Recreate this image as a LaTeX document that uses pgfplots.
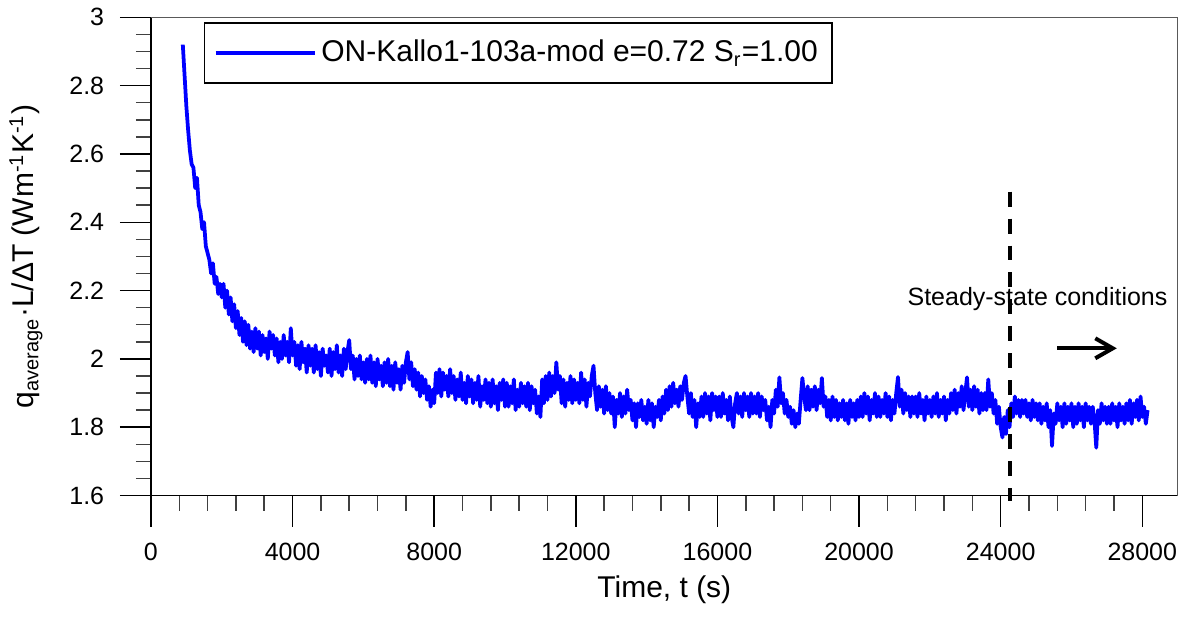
\documentclass[border=0pt]{standalone}
\usepackage{pgfplots}
\pgfplotsset{compat=1.18}
\usepackage{pgfplotstable}
\usepackage{fontspec}
\setmainfont{Liberation Sans}
\usetikzlibrary{arrows.meta}
\definecolor{curveblue}{RGB}{0,0,255}

\pgfplotstableread{
t q
900 2.92
950 2.83
1000 2.74
1050 2.67
1100 2.61
1150 2.57
1200 2.56
1250 2.50
1300 2.53
1350 2.45
1400 2.43
1450 2.38
1500 2.40
1550 2.33
1600 2.31
1650 2.29
1700 2.25
1750 2.28
1800 2.22
1850 2.24
1900 2.19
1950 2.22
2000 2.18
2050 2.22
2100 2.15
2150 2.20
2200 2.13
2250 2.18
2300 2.11
2350 2.16
2400 2.09
2450 2.14
2500 2.07
2550 2.12
2600 2.05
2650 2.11
2700 2.04
2750 2.10
2800 2.03
2850 2.08
2900 2.02
2950 2.09
3000 2.03
3050 2.08
3100 2.01
3150 2.07
3200 2.02
3250 2.06
3300 2.00
3350 2.08
3400 2.03
3450 2.07
3500 2.01
3550 2.06
3600 1.99
3650 2.05
3700 2.00
3750 2.07
3800 2.01
3850 2.05
3900 1.99
3950 2.09
4000 2.01
4050 2.05
4100 1.98
4150 2.04
4200 1.97
4250 2.05
4300 1.99
4350 2.03
4400 1.96
4450 2.04
4500 1.98
4550 2.03
4600 1.96
4650 2.04
4700 1.97
4750 2.02
4800 1.95
4850 2.03
4900 1.98
4950 2.01
5000 1.96
5050 2.03
5100 1.95
5150 2.02
5200 1.97
5250 2.04
5300 1.96
5350 2.01
5400 1.95
5450 2.03
5500 1.97
5550 2.02
5600 2.055
5650 1.97
5700 2.01
5750 1.94
5800 2.00
5850 1.95
5900 2.01
5950 1.94
6000 1.99
6050 1.93
6100 2.00
6150 1.94
6200 2.01
6250 1.93
6300 1.99
6350 1.92
6400 2.00
6450 1.94
6500 1.98
6550 1.92
6600 1.99
6650 1.93
6700 2.00
6750 1.92
6800 1.98
6850 1.91
6900 1.99
6950 1.93
7000 1.97
7050 1.91
7100 1.98
7150 1.93
7200 1.99
7250 2.02
7300 1.94
7350 1.99
7400 1.92
7450 1.97
7500 1.91
7550 1.96
7600 1.89
7650 1.95
7700 1.90
7750 1.94
7800 1.88
7850 1.92
7900 1.86
7950 1.91
8000 1.87
8050 1.96
8100 1.90
8150 1.97
8200 1.89
8250 1.96
8300 1.91
8350 1.95
8400 1.89
8450 1.97
8500 1.90
8550 1.95
8600 1.88
8650 1.94
8700 1.89
8750 1.96
8800 1.88
8850 1.93
8900 1.87
8950 1.95
9000 1.89
9050 1.94
9100 1.87
9150 1.93
9200 1.88
9250 1.95
9300 1.86
9350 1.92
9400 1.88
9450 1.94
9500 1.87
9550 1.93
9600 1.86
9650 1.94
9700 1.87
9750 1.92
9800 1.85
9850 1.93
9900 1.88
9950 1.94
10000 1.86
10050 1.93
10100 1.86
10150 1.92
10200 1.87
10250 1.94
10300 1.85
10350 1.91
10400 1.86
10450 1.93
10500 1.87
10550 1.92
10600 1.86
10650 1.93
10700 1.85
10750 1.92
10800 1.87
10850 1.91
10900 1.84
10950 1.89
11000 1.83
11050 1.94
11100 1.87
11150 1.95
11200 1.88
11250 1.96
11300 1.89
11350 1.95
11400 1.90
11450 1.99
11500 1.91
11550 1.95
11600 1.87
11650 1.94
11700 1.86
11750 1.93
11800 1.88
11850 1.95
11900 1.87
11950 1.94
12000 1.88
12050 1.93
12100 1.87
12150 1.96
12200 1.88
12250 1.94
12300 1.86
12350 1.93
12400 1.89
12450 1.95
12500 1.98
12550 1.90
12600 1.85
12650 1.92
12700 1.86
12750 1.91
12800 1.84
12850 1.92
12900 1.85
12950 1.90
13000 1.84
13050 1.89
13100 1.80
13150 1.88
13200 1.84
13250 1.90
13300 1.83
13350 1.89
13400 1.84
13450 1.91
13500 1.85
13550 1.88
13600 1.82
13650 1.87
13700 1.80
13750 1.87
13800 1.83
13850 1.88
13900 1.82
13950 1.86
14000 1.81
14050 1.88
14100 1.82
14150 1.87
14200 1.80
14250 1.86
14300 1.83
14350 1.88
14400 1.82
14450 1.89
14500 1.84
14550 1.91
14600 1.85
14650 1.92
14700 1.86
14750 1.93
14800 1.87
14850 1.91
14900 1.86
14950 1.92
15000 1.88
15050 1.93
15100 1.95
15150 1.89
15200 1.84
15250 1.90
15300 1.83
15350 1.88
15400 1.80
15450 1.87
15500 1.83
15550 1.89
15600 1.83
15650 1.90
15700 1.84
15750 1.89
15800 1.82
15850 1.90
15900 1.85
15950 1.89
16000 1.83
16050 1.89
16100 1.83
16150 1.90
16200 1.84
16250 1.88
16300 1.82
16350 1.89
16400 1.83
16450 1.80
16500 1.87
16550 1.90
16600 1.84
16650 1.89
16700 1.83
16750 1.90
16800 1.85
16850 1.89
16900 1.83
16950 1.90
17000 1.84
17050 1.89
17100 1.84
17150 1.90
17200 1.83
17250 1.89
17300 1.85
17350 1.88
17400 1.82
17450 1.86
17500 1.80
17550 1.88
17600 1.84
17650 1.91
17700 1.86
17750 1.946
17800 1.87
17850 1.90
17900 1.84
17950 1.88
18000 1.83
18050 1.86
18100 1.81
18150 1.85
18200 1.80
18250 1.84
18300 1.81
18350 1.88
18400 1.944
18450 1.89
18500 1.85
18550 1.92
18600 1.85
18650 1.91
18700 1.86
18750 1.92
18800 1.85
18850 1.91
18900 1.87
18950 1.944
19000 1.86
19050 1.89
19100 1.83
19150 1.88
19200 1.82
19250 1.89
19300 1.83
19350 1.88
19400 1.82
19450 1.87
19500 1.83
19550 1.88
19600 1.82
19650 1.87
19700 1.81
19750 1.88
19800 1.83
19850 1.87
19900 1.82
19950 1.88
20000 1.83
20050 1.89
20100 1.83
20150 1.90
20200 1.84
20250 1.89
20300 1.82
20350 1.88
20400 1.84
20450 1.90
20500 1.83
20550 1.89
20600 1.83
20650 1.88
20700 1.84
20750 1.90
20800 1.83
20850 1.89
20900 1.82
20950 1.88
21000 1.84
21050 1.90
21100 1.947
21150 1.86
21200 1.91
21250 1.84
21300 1.90
21350 1.85
21400 1.89
21450 1.83
21500 1.89
21550 1.84
21600 1.89
21650 1.83
21700 1.90
21750 1.84
21800 1.88
21850 1.82
21900 1.89
21950 1.84
22000 1.88
22050 1.83
22100 1.89
22150 1.84
22200 1.90
22250 1.83
22300 1.88
22350 1.84
22400 1.89
22450 1.82
22500 1.88
22550 1.84
22600 1.90
22650 1.85
22700 1.91
22750 1.84
22800 1.90
22850 1.86
22900 1.92
22950 1.85
23000 1.90
23050 1.946
23100 1.86
23150 1.91
23200 1.85
23250 1.92
23300 1.86
23350 1.91
23400 1.84
23450 1.90
23500 1.85
23550 1.90
23600 1.85
23650 1.94
23700 1.86
23750 1.90
23800 1.84
23850 1.88
23900 1.81
23950 1.86
24000 1.80
24050 1.77
24100 1.83
24150 1.78
24200 1.85
24250 1.80
24300 1.87
24350 1.83
24400 1.89
24450 1.84
24500 1.88
24550 1.83
24600 1.88
24650 1.84
24700 1.88
24750 1.83
24800 1.87
24850 1.82
24900 1.88
24950 1.83
25000 1.87
25050 1.82
25100 1.87
25150 1.81
25200 1.86
25250 1.82
25300 1.87
25350 1.80
25400 1.85
25450 1.745
25500 1.84
25550 1.81
25600 1.87
25650 1.82
25700 1.86
25750 1.80
25800 1.87
25850 1.81
25900 1.86
25950 1.82
26000 1.87
26050 1.80
26100 1.86
26150 1.81
26200 1.87
26250 1.82
26300 1.86
26350 1.80
26400 1.87
26450 1.82
26500 1.86
26550 1.81
26600 1.86
26650 1.82
26700 1.74
26750 1.85
26800 1.81
26850 1.87
26900 1.82
26950 1.86
27000 1.81
27050 1.86
27100 1.81
27150 1.87
27200 1.82
27250 1.86
27300 1.80
27350 1.87
27400 1.82
27450 1.86
27500 1.81
27550 1.87
27600 1.82
27650 1.88
27700 1.81
27750 1.87
27800 1.83
27850 1.88
27900 1.82
27950 1.89
28000 1.83
28050 1.86
28100 1.81
28150 1.85
}\qdata

\begin{document}
\begin{tikzpicture}
\path[use as bounding box] (-60.4pt,-48.92pt) rectangle (413.76pt,198.28pt);
\begin{axis}[
  scale only axis,
  width=410.84pt, height=191.36pt,
  at={(0pt,0pt)}, anchor=south west,
  xmin=0, xmax=29000, ymin=1.6, ymax=3,
  xtick={0,4000,8000,12000,16000,20000,24000,28000},
  ytick={1.6,1.8,2,2.2,2.4,2.6,2.8,3},
  minor x tick num=4, minor y tick num=3,
  tick align=outside, tick pos=left,
  major tick length=12.4pt, minor tick length=6pt,
  every major tick/.style={black, line width=0.6pt},
  every minor tick/.style={black!75, line width=0.6pt},
  axis line style={black, line width=0.6pt},
  scaled x ticks=false, scaled y ticks=false,
  /pgf/number format/assume math mode=true,
  xticklabel style={/pgf/number format/1000 sep={}, yshift=-3.2pt},
  yticklabel style={xshift=-2.8pt},
  ticklabel style={font=\fontsize{10}{12}\selectfont},
  xlabel={Time, t (s)},
  ylabel={q\textsubscript{average}·L/ΔT (Wm\textsuperscript{-1}K\textsuperscript{-1})},
  xlabel style={at={(axis description cs:0.5,-0.197)}, anchor=center, font=\fontsize{12}{14}\selectfont},
  ylabel style={at={(axis description cs:-0.1217,0.5)}, anchor=center, rotate=0, font=\fontsize{12}{14}\selectfont},
  legend style={at={(axis description cs:0.0516,0.990)}, anchor=north west, draw=black, line width=0.6pt,
    inner xsep=3.6pt, inner ysep=4.9pt, nodes={inner sep=2pt}, font=\fontsize{12}{14}\selectfont},
  legend cell align=left,
  legend image code/.code={\path (0pt,0pt) -- (39.6pt,0pt); \draw[#1] (4.4pt,0pt) -- (36pt,0pt);},
  clip=false,
]
\addplot[curveblue, line width=1.5pt, line join=round] table[x=t, y=q] {\qdata};
\addlegendentry{ON-Kallo1-103a-mod e=0.72 S\textsubscript{r}=1.00}
\draw[black!65, line width=0.6pt] (axis description cs:0,1) -- (axis description cs:1,1) -- (axis description cs:1,0);
\draw[black, line width=1.6pt, dash pattern=on 6pt off 4.8pt] (axis cs:24250,2.49) -- (axis cs:24250,1.585);
\node[font=\fontsize{10}{12}\selectfont] at (axis cs:25040,2.176) {Steady-state conditions};
\draw[-{Straight Barb[length=7pt,width=8pt]}, line width=1.6pt] (axis cs:25600,2.031) -- (axis cs:27280,2.031);
\end{axis}
\end{tikzpicture}
\end{document}
